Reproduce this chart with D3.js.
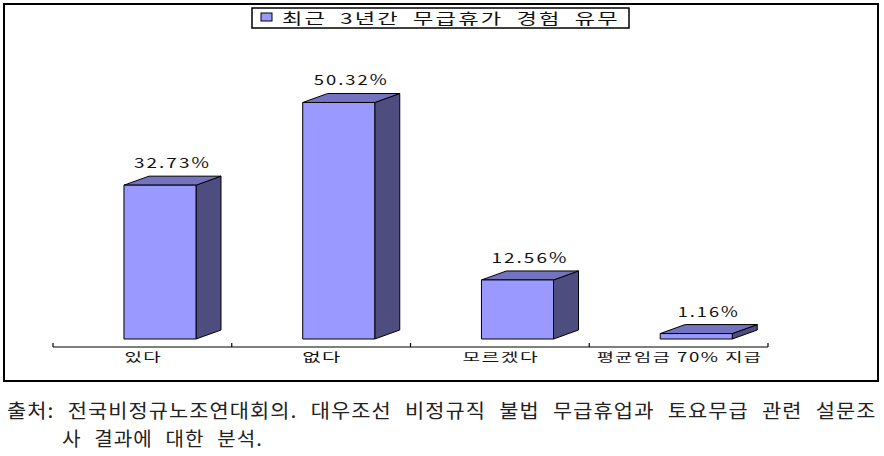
<!DOCTYPE html>
<html><head><meta charset="utf-8">
<script src="https://cdn.jsdelivr.net/npm/d3@7"></script>
<style>body{margin:0;background:#fff}svg{display:block}</style>
</head><body>
<svg id="c" width="884" height="456"></svg>
<script>
const categories = ["있다", "없다", "모르겠다", "평균임금 70% 지급"];
const values = [32.73, 50.32, 12.56, 1.16];
const valueLabels = ["32.73%", "50.32%", "12.56%", "1.16%"];
const legendTitle = "최근 3년간 무급휴가 경험 유무";
const footLines = ["출처: 전국비정규노조연대회의. 대우조선 비정규직 불법 무급휴업과 토요무급 관련 설문조", "사 결과에 대한 분석."];

const svg = d3.select("#c");
const FONT = "'Noto Sans CJK KR', 'Noto Sans', sans-serif";

// place text starting at `left`, with base letter-spacing, then stretch horizontally to a target width
function placeText(text, cx, y, target, size, opts = {}) {
  const left = opts.left !== undefined ? opts.left : cx - target / 2;
  const g = svg.append("g");
  const t = g.append("text").text(text)
    .attr("font-family", opts.family || FONT).attr("font-size", size)
    .attr("font-weight", opts.weight || 400)
    .attr("fill", opts.fill || "#000").attr("x", 0).attr("y", 0)
    .attr("letter-spacing", opts.ls || 0)
    .attr("word-spacing", opts.ws || 0);
  const w = t.node().getBBox().width;
  const sx = target / w;
  g.attr("transform", `translate(${left},${y}) scale(${sx.toFixed(4)},1)`);
  return t;
}

// outer frame
svg.append("rect").attr("x", 4).attr("y", 4).attr("width", 874).attr("height", 377)
  .attr("fill", "none").attr("stroke", "#000").attr("stroke-width", 2);

// scales
const x = d3.scaleBand().domain(categories).range([53, 768]).paddingInner(0).paddingOuter(0);
const y = d3.scaleLinear().domain([0, 60]).range([339, 57]);
const bw = x.bandwidth();
const frontOff = bw * 0.397, frontW = bw * 0.403;
const dx = 25, dy = -9;

// axis
const axisY = 347;
svg.append("line").attr("x1", 53).attr("x2", 768).attr("y1", axisY).attr("y2", axisY)
  .attr("stroke", "#000").attr("stroke-width", 1.2);
const edges = categories.map(c => x(c)).concat([x(categories[categories.length - 1]) + bw]);
svg.selectAll(".tick").data(edges).enter().append("line")
  .attr("x1", d => d).attr("x2", d => d).attr("y1", axisY - 4).attr("y2", axisY)
  .attr("stroke", "#000").attr("stroke-width", 1.2);

// bars
const bars = svg.append("g");
categories.forEach((c, i) => {
  const x0 = x(c) + frontOff, x1 = x0 + frontW;
  const yt = y(values[i]), yb = y(0);
  const g = bars.append("g").attr("stroke", "#000").attr("stroke-width", 1).attr("stroke-linejoin", "round");
  g.append("path").attr("fill", "#4D4D80")
    .attr("d", `M${x1},${yt}L${x1 + dx},${yt + dy}L${x1 + dx},${yb + dy}L${x1},${yb}Z`);
  g.append("path").attr("fill", "#7373BF")
    .attr("d", `M${x0},${yt}L${x0 + dx},${yt + dy}L${x1 + dx},${yt + dy}L${x1},${yt}Z`);
  g.append("rect").attr("fill", "#9999FF").attr("x", x0).attr("y", yt)
    .attr("width", frontW).attr("height", yb - yt);
});

// value labels
const vWidths = [77, 75, 77, 62];
categories.forEach((c, i) => {
  const cx = x(c) + frontOff + frontW / 2 + dx / 2;
  placeText(valueLabels[i], cx, y(values[i]) + dy - 8, vWidths[i], 14, { fill: "#111", ls: 1.5 });
});

// category labels
const cWidths = [38, 40, 77, 166];
categories.forEach((c, i) => {
  placeText(c, x(c) + bw / 2 + 1, 362, cWidths[i], 12.5, { fill: "#111", ls: 1 });
});

// legend
svg.append("rect").attr("x", 252).attr("y", 8).attr("width", 377).attr("height", 20)
  .attr("fill", "#fff").attr("stroke", "#000").attr("stroke-width", 1.5);
svg.append("rect").attr("x", 261).attr("y", 13).attr("width", 11).attr("height", 8)
  .attr("fill", "#9999FF").attr("stroke", "#000").attr("stroke-width", 1);
placeText(legendTitle, 0, 24, 338, 15, { left: 282, fill: "#111", ls: 1.5, ws: 4 });

// footnote
placeText(footLines[0], 0, 418, 870, 19.5, { left: 7, fill: "#222", ls: 1, ws: 7 });
placeText(footLines[1], 0, 446, 201, 19.5, { left: 62, fill: "#222", ls: 1, ws: 7 });
</script>
</body></html>
